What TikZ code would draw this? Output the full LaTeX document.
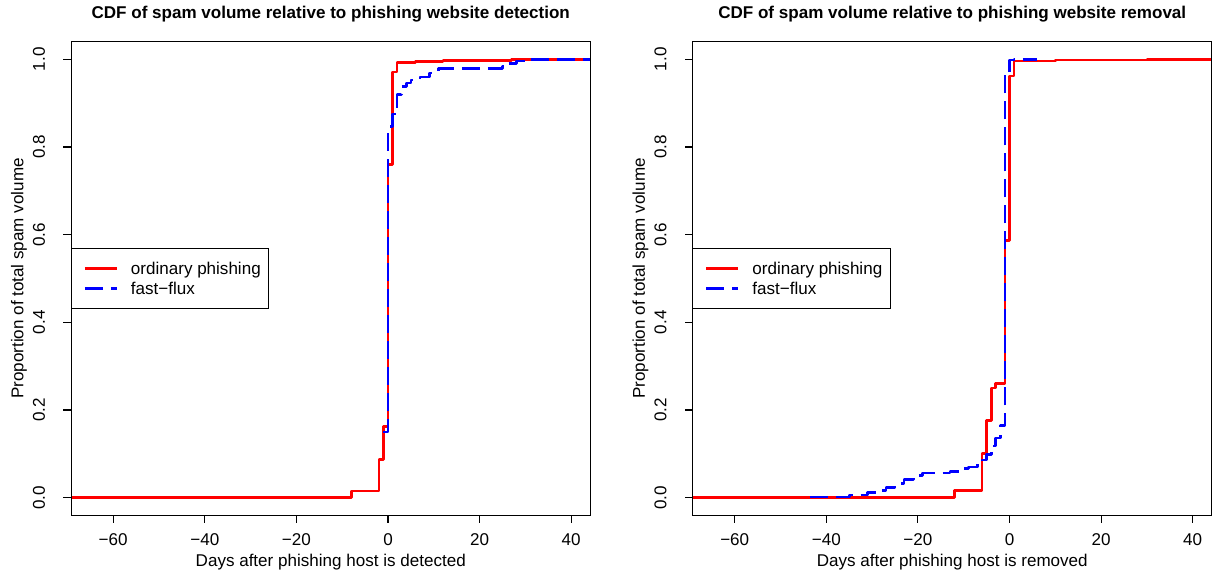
\documentclass[tikz,border=0pt]{standalone}
\usepackage{fontspec}
\setmainfont{Liberation Sans}
\usepackage{tikz}
\tikzset{
	plotbox/.style={line width=0.6pt, color=black},
	axisline/.style={line width=0.6pt, color=black},
	ordinary/.style={line width=1.5pt, color=red, line join=round},
	fastflux/.style={line width=1.5pt, color=blue, line join=round, dash pattern=on 0.36cm off 0.16cm},
	legendbox/.style={line width=0.6pt, draw=black, fill=white},
	plaintext/.style={font=\fontsize{9.7}{11.6}\selectfont, inner sep=0pt},
	ticklabel/.style={plaintext, anchor=base},
	yticklabel/.style={plaintext, anchor=base, rotate=90},
	legendtext/.style={plaintext, anchor=base west},
	maintitle/.style={font=\bfseries\fontsize{9.7}{11.6}\selectfont, inner sep=0pt, anchor=base}
}

\begin{document}
\begin{tikzpicture}
	%%%%% START %%%%%
	
	\useasboundingbox (0,0) rectangle (24.24,11.62);
	\fill[white] (0,0) rectangle (24.24,11.62);
	
	%%% detection panel
	\begin{scope}[shift={(7.76,1.666)}, x=0.0916cm, y=8.768cm]
		\draw[ordinary] (-69.2,0) -| (-8,0.015) -| (-2,0.0876) -| (-1,0.162) -| (0,0.76) -| (1,0.971) -| (2,0.993) -| (6,0.995) -| (12,0.997) -| (27,1.0) -- (44.2,1.0);
		\draw[fastflux] (-1,0.15) -| (0,0.846) -| (1,0.875) -| (2,0.92) -| (3,0.938) -| (4,0.946) -| (5,0.953) -| (7,0.96) -| (9,0.969) -| (11,0.9795) -| (25,0.983) -| (26,0.991) -| (28,0.996) -| (31,1.0) -- (44.2,1.0);
		
		\draw[plotbox] (-69.2,-0.04) rectangle (44.2,1.04);
		\draw[axisline] (-60,-0.04) -- (40,-0.04)
			(-60,-0.04) -- ++(0,-0.16cm) (-40,-0.04) -- ++(0,-0.16cm) (-20,-0.04) -- ++(0,-0.16cm)
			(0,-0.04) -- ++(0,-0.16cm) (20,-0.04) -- ++(0,-0.16cm) (40,-0.04) -- ++(0,-0.16cm);
		\draw[axisline] (-69.2,0) -- (-69.2,1)
			(-69.2,0) -- ++(-0.16cm,0) (-69.2,0.2) -- ++(-0.16cm,0) (-69.2,0.4) -- ++(-0.16cm,0)
			(-69.2,0.6) -- ++(-0.16cm,0) (-69.2,0.8) -- ++(-0.16cm,0) (-69.2,1) -- ++(-0.16cm,0);
		
		\node[ticklabel] (detxm60) at (-60,-0.108) {−60};
		\node[ticklabel] (detxm40) at (-40,-0.108) {−40};
		\node[ticklabel] (detxm20) at (-20,-0.108) {−20};
		\node[ticklabel] (detx0) at (0,-0.108) {0};
		\node[ticklabel] (detx20) at (20,-0.108) {20};
		\node[ticklabel] (detx40) at (40,-0.108) {40};
		
		\node[yticklabel] (dety0) at (-74.9,0) {0.0};
		\node[yticklabel] (dety2) at (-74.9,0.2) {0.2};
		\node[yticklabel] (dety4) at (-74.9,0.4) {0.4};
		\node[yticklabel] (dety6) at (-74.9,0.6) {0.6};
		\node[yticklabel] (dety8) at (-74.9,0.8) {0.8};
		\node[yticklabel] (dety10) at (-74.9,1) {1.0};
		
		\node[maintitle] (dettitle) at (-12.5,1.094) {CDF of spam volume relative to phishing website detection};
		\node[ticklabel] (detxlab) at (-12.5,-0.158) {Days after phishing host is detected};
		\node[yticklabel] (detylab) at (-79.6,0.5) {Proportion of total spam volume};
		
		\draw[legendbox] (-69.2,0.432) rectangle (-26.0,0.5689);
		\draw[ordinary] (-66.2,0.5233) -- (-59.2,0.5233);
		\draw[fastflux] (-66.2,0.4772) -- (-59.2,0.4772);
		\node[legendtext] (detleg1) at (-56.2,0.5096) {ordinary phishing};
		\node[legendtext] (detleg2) at (-56.2,0.4635) {fast−flux};
	\end{scope}
	
	%%% removal panel
	\begin{scope}[shift={(20.19,1.666)}, x=0.0916cm, y=8.768cm]
		\draw[ordinary] (-69.2,0) -| (-12,0.016) -| (-6,0.101) -| (-5,0.176) -| (-4,0.25) -| (-3,0.261) -| (-1,0.587) -| (0,0.962) -| (1,0.996) -| (10,0.998) -| (30,1.0) -- (44.2,1.0);
		\draw[fastflux] (-43.5,0.002) -| (-35,0.006) -| (-31,0.012) -| (-28,0.016) -| (-27,0.024) -| (-25,0.032) -| (-23,0.042) -| (-21,0.05) -| (-19,0.056) -| (-13,0.06) -| (-11,0.066) -| (-9,0.07) -| (-7,0.078) -| (-6,0.086) -| (-5,0.098) -| (-4,0.118) -| (-3,0.136) -| (-2,0.165) -| (-1,0.968) -| (0,0.998) -| (1,1.0) -- (6,1.0);
		
		\draw[plotbox] (-69.2,-0.04) rectangle (44.2,1.04);
		\draw[axisline] (-60,-0.04) -- (40,-0.04)
			(-60,-0.04) -- ++(0,-0.16cm) (-40,-0.04) -- ++(0,-0.16cm) (-20,-0.04) -- ++(0,-0.16cm)
			(0,-0.04) -- ++(0,-0.16cm) (20,-0.04) -- ++(0,-0.16cm) (40,-0.04) -- ++(0,-0.16cm);
		\draw[axisline] (-69.2,0) -- (-69.2,1)
			(-69.2,0) -- ++(-0.16cm,0) (-69.2,0.2) -- ++(-0.16cm,0) (-69.2,0.4) -- ++(-0.16cm,0)
			(-69.2,0.6) -- ++(-0.16cm,0) (-69.2,0.8) -- ++(-0.16cm,0) (-69.2,1) -- ++(-0.16cm,0);
		
		\node[ticklabel] (remxm60) at (-60,-0.108) {−60};
		\node[ticklabel] (remxm40) at (-40,-0.108) {−40};
		\node[ticklabel] (remxm20) at (-20,-0.108) {−20};
		\node[ticklabel] (remx0) at (0,-0.108) {0};
		\node[ticklabel] (remx20) at (20,-0.108) {20};
		\node[ticklabel] (remx40) at (40,-0.108) {40};
		
		\node[yticklabel] (remy0) at (-74.9,0) {0.0};
		\node[yticklabel] (remy2) at (-74.9,0.2) {0.2};
		\node[yticklabel] (remy4) at (-74.9,0.4) {0.4};
		\node[yticklabel] (remy6) at (-74.9,0.6) {0.6};
		\node[yticklabel] (remy8) at (-74.9,0.8) {0.8};
		\node[yticklabel] (remy10) at (-74.9,1) {1.0};
		
		\node[maintitle] (remtitle) at (-12.5,1.094) {CDF of spam volume relative to phishing website removal};
		\node[ticklabel] (remxlab) at (-12.5,-0.158) {Days after phishing host is removed};
		\node[yticklabel] (remylab) at (-79.6,0.5) {Proportion of total spam volume};
		
		\draw[legendbox] (-69.2,0.432) rectangle (-26.0,0.5689);
		\draw[ordinary] (-66.2,0.5233) -- (-59.2,0.5233);
		\draw[fastflux] (-66.2,0.4772) -- (-59.2,0.4772);
		\node[legendtext] (remleg1) at (-56.2,0.5096) {ordinary phishing};
		\node[legendtext] (remleg2) at (-56.2,0.4635) {fast−flux};
	\end{scope}
	
	%%%%% END %%%%%
\end{tikzpicture}
\end{document}
